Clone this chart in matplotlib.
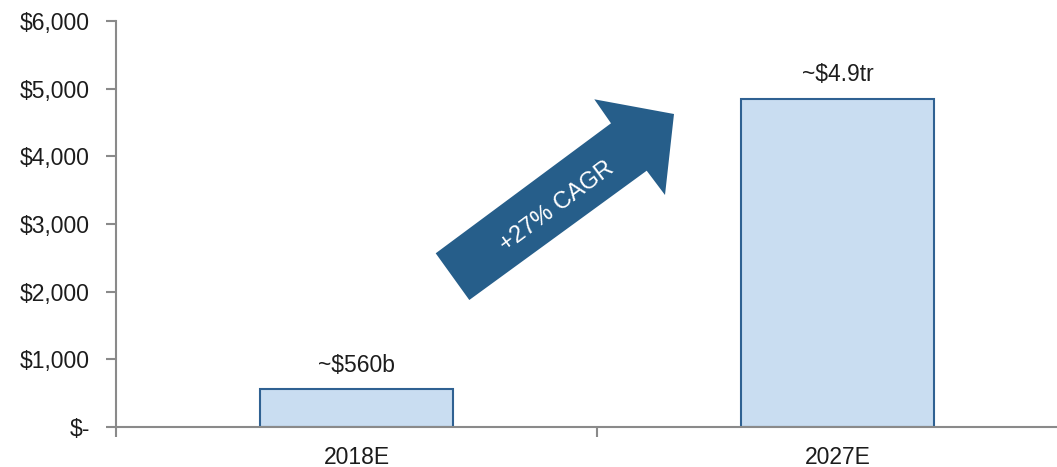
import matplotlib
matplotlib.use("Agg")
import matplotlib.pyplot as plt
from matplotlib.patches import Polygon
from matplotlib.ticker import FuncFormatter

categories = ["2018E", "2027E"]
values = [560, 4850]
value_labels = ["~$560b", "~$4.9tr"]
y_ticks = [0, 1000, 2000, 3000, 4000, 5000, 6000]
arrow_label = "+27% CAGR"

W, H = 1057, 467
fig = plt.figure(figsize=(W / 100, H / 100), dpi=100)
plt.rcParams["font.family"] = ["Liberation Sans", "DejaVu Sans"]

left, right, bottom, top = 116, 1057, 427, 21
ax = fig.add_axes([left / W, (H - bottom) / H, (right - left) / W, (bottom - top) / H])

axis_grey = "#8a8a8a"
text_col = "#1c1c1c"
fs = 16.5

x = list(range(len(categories)))
bars = ax.bar(x, values, width=0.4, color="#c9ddf1", edgecolor="#2f6192", linewidth=1.5, zorder=3)

for xi, v, lab in zip(x, values, value_labels):
    ax.annotate(lab, (xi, v), xytext=(0, 9), textcoords="offset points",
                ha="center", va="bottom", fontsize=fs, color=text_col)

ax.set_xlim(-0.5, 1.456)
ax.set_ylim(0, 6000)
ax.set_yticks(y_ticks)
ax.yaxis.set_major_formatter(FuncFormatter(lambda v, p: "$-" if v == 0 else f"${v:,.0f}"))

# category boundaries carry the tick marks; names sit between them
ax.set_xticks([-0.5, 0.5])
ax.set_xticklabels([])
ax.set_xticks(x, minor=True)
ax.set_xticklabels(categories, minor=True)
ax.tick_params(axis="x", which="major", length=7, width=1.5, color=axis_grey, direction="out")
ax.tick_params(axis="x", which="minor", length=0, pad=13.5, labelsize=fs, labelcolor=text_col)
ax.tick_params(axis="y", length=7, width=1.5, color=axis_grey, labelsize=fs, labelcolor=text_col, pad=12)

for s in ["top", "right"]:
    ax.spines[s].set_visible(False)
for s in ["left", "bottom"]:
    ax.spines[s].set_color(axis_grey)
    ax.spines[s].set_linewidth(1.5)
ax.spines["bottom"].set_zorder(4)

# growth arrow drawn in figure pixel space
arrow_px = [(435.7, 253.3), (611.0, 123.3), (594.3, 99.3), (674.0, 114.0),
            (665.0, 195.0), (646.7, 170.7), (469.3, 300.0)]
arrow_fig = [(px / W, 1 - py / H) for px, py in arrow_px]
fig.patches.append(Polygon(arrow_fig, closed=True, transform=fig.transFigure,
                           facecolor="#265e8a", edgecolor="none", zorder=5))
fig.text(556.7 / W, 1 - 206.7 / H, arrow_label, rotation=36.6, rotation_mode="anchor",
         ha="center", va="center", color="white", fontsize=17, zorder=6)

fig.savefig("out.png", dpi=100)
